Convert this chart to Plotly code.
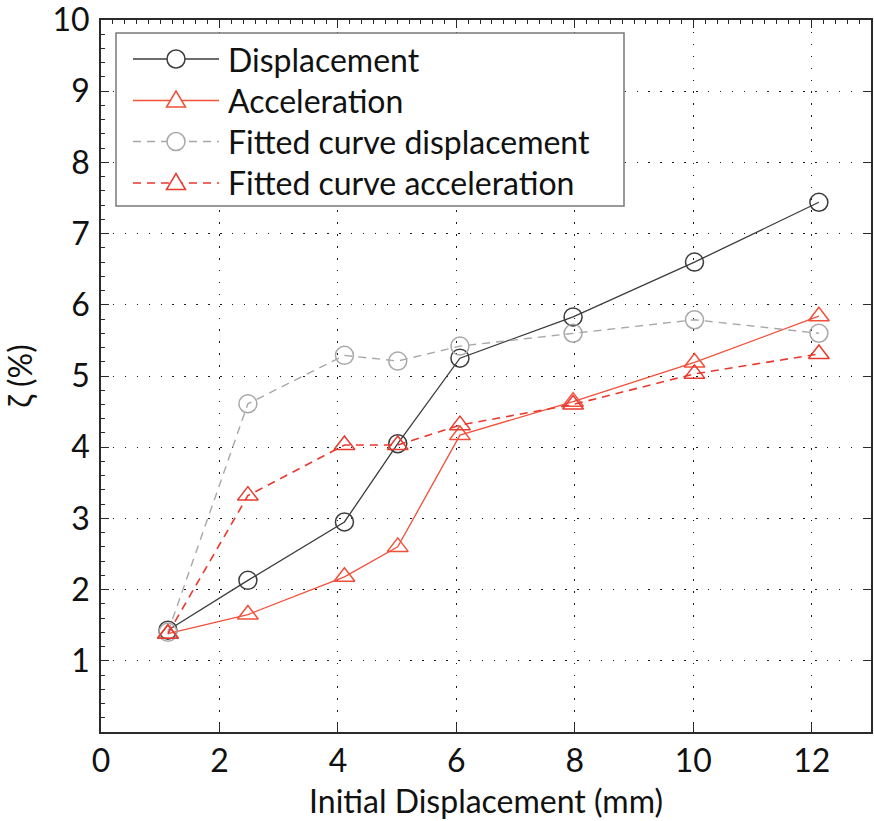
import plotly.graph_objects as go

# Initial displacement (mm) for each test
initial_disp = [1.13, 2.48, 4.11, 5.01, 6.06, 7.97, 10.02, 12.12]

# Damping ratio zeta (%) identified from each signal
zeta_displacement = [1.43, 2.13, 2.95, 4.05, 5.25, 5.83, 6.60, 7.44]
zeta_acceleration = [1.38, 1.65, 2.18, 2.60, 4.17, 4.64, 5.19, 5.84]
zeta_fit_displacement = [1.40, 4.61, 5.29, 5.21, 5.42, 5.60, 5.79, 5.60]
zeta_fit_acceleration = [1.38, 3.32, 4.03, 4.03, 4.31, 4.60, 5.03, 5.31]

series_names = [
    "Displacement",
    "Acceleration",
    "Fitted curve displacement",
    "Fitted curve acceleration",
]

x_ticks = [0, 2, 4, 6, 8, 10, 12]
y_ticks = list(range(1, 11))

FONT = "Lato"
FS = 32
AXIS_COLOR = "#2b2b2b"

C_DISP = "#3c3c3c"
C_ACC = "#f2503a"
C_FIT_DISP = "#a8a8a8"
C_FIT_ACC = "#e8392e"

styles = [
    dict(color=C_DISP, dash="solid", symbol="circle-open", width=1.3),
    dict(color=C_ACC, dash="solid", symbol="triangle-up-open", width=1.3),
    dict(color=C_FIT_DISP, dash="8px,6px", symbol="circle-open", width=1.4),
    dict(color=C_FIT_ACC, dash="8px,6px", symbol="triangle-up-open", width=1.6),
]
series_values = [
    zeta_displacement,
    zeta_acceleration,
    zeta_fit_displacement,
    zeta_fit_acceleration,
]

fig = go.Figure()
for name, vals, st in zip(series_names, series_values, styles):
    fig.add_trace(
        go.Scatter(
            x=initial_disp,
            y=vals,
            name=name,
            mode="lines+markers",
            line=dict(color=st["color"], width=st["width"], dash=st["dash"]),
            marker=dict(
                symbol=st["symbol"],
                size=18,
                color=st["color"],
                line=dict(color=st["color"], width=1.5),
            ),
            showlegend=False,
        )
    )

# empty trace so the top/right tick axes get drawn
fig.add_trace(go.Scatter(x=[], y=[], xaxis="x2", yaxis="y2", showlegend=False, hoverinfo="skip"))

# Plot-area geometry in pixels (used to place the boxed legend)
W, H = 874, 821
L, R, T, B = 101, 3, 20, 89
X0, X1 = L, W - R
Y0, Y1 = T, H - B


def px(x):
    return (x - X0) / (X1 - X0)


def py(y):
    return (Y1 - y) / (Y1 - Y0)


grid = dict(showgrid=True, gridcolor="#1a1a1a", gridwidth=1.3, griddash="1.5px,10.4px")
minor_ticks = dict(dtick=0.2, ticks="inside", ticklen=4, tickcolor=AXIS_COLOR, tickwidth=1, showgrid=False)

fig.update_layout(
    width=W,
    height=H,
    margin=dict(l=L, r=R, t=T, b=B, autoexpand=False),
    paper_bgcolor="white",
    plot_bgcolor="white",
    font=dict(family=FONT, size=FS, color="#111111"),
    xaxis=dict(
        range=[0, 13],
        tickvals=x_ticks,
        ticks="inside",
        ticklen=8,
        tickwidth=1.2,
        tickcolor=AXIS_COLOR,
        showline=True,
        linecolor=AXIS_COLOR,
        linewidth=1.8,
        mirror=True,
        zeroline=False,
        automargin=False,
        ticklabelstandoff=0,
        title=dict(text="Initial Displacement (mm)", font=dict(size=FS), standoff=12),
        **grid,
    ),
    yaxis=dict(
        range=[0, 10.0001],
        tickvals=y_ticks,
        ticks="inside",
        ticklen=8,
        tickwidth=1.2,
        tickcolor=AXIS_COLOR,
        showline=True,
        linecolor=AXIS_COLOR,
        linewidth=1.8,
        mirror=True,
        zeroline=False,
        automargin=False,
        ticklabelstandoff=3,
        ticklabeloverflow="allow",
        minor=minor_ticks,
        title=dict(text="ζ (%)", font=dict(size=FS), standoff=10),
        **grid,
    ),
    xaxis2=dict(
        range=[0, 13],
        overlaying="x",
        side="top",
        anchor="y",
        tickvals=x_ticks,
        ticks="inside",
        ticklen=8,
        tickwidth=1.2,
        tickcolor=AXIS_COLOR,
        showticklabels=False,
        showgrid=False,
        zeroline=False,
        automargin=False,
        minor=minor_ticks,
    ),
    yaxis2=dict(
        range=[0, 10.0001],
        overlaying="y",
        side="right",
        anchor="x",
        tickvals=y_ticks,
        ticks="inside",
        ticklen=8,
        tickwidth=1.2,
        tickcolor=AXIS_COLOR,
        showticklabels=False,
        showgrid=False,
        zeroline=False,
        automargin=False,
    ),
)

# Boxed legend drawn with shapes and annotations
box_l, box_r, box_t, box_b = 116, 624, 33, 206
shapes = [
    dict(
        type="rect",
        xref="paper",
        yref="paper",
        x0=px(box_l),
        x1=px(box_r),
        y0=py(box_b),
        y1=py(box_t),
        fillcolor="white",
        line=dict(color="#7a7a7a", width=1.5),
        layer="above",
    )
]
annotations = []
row_y = [59, 100.5, 141.5, 183]
for name, st, ry in zip(series_names, styles, row_y):
    shapes.append(
        dict(
            type="line",
            xref="paper",
            yref="paper",
            x0=px(133),
            x1=px(219),
            y0=py(ry),
            y1=py(ry),
            line=dict(color=st["color"], width=st["width"], dash=st["dash"]),
            layer="above",
        )
    )
    if st["symbol"] == "circle-open":
        shapes.append(
            dict(
                type="circle",
                xref="paper",
                yref="paper",
                xsizemode="pixel",
                ysizemode="pixel",
                xanchor=px(176),
                yanchor=py(ry),
                x0=-9,
                x1=9,
                y0=-9,
                y1=9,
                fillcolor="white",
                line=dict(color=st["color"], width=1.5),
                layer="above",
            )
        )
    else:
        shapes.append(
            dict(
                type="path",
                xref="paper",
                yref="paper",
                xsizemode="pixel",
                ysizemode="pixel",
                xanchor=px(176),
                yanchor=py(ry),
                path="M -9.5 -6.5 L 9.5 -6.5 L 0 9.5 Z",
                fillcolor="white",
                line=dict(color=st["color"], width=1.5),
                layer="above",
            )
        )
    annotations.append(
        dict(
            text=name,
            xref="paper",
            yref="paper",
            x=px(226),
            y=py(ry),
            xanchor="left",
            yanchor="middle",
            showarrow=False,
            font=dict(family=FONT, size=FS, color="#111111"),
        )
    )

fig.update_layout(shapes=shapes, annotations=annotations)

fig.write_html("out.html")
